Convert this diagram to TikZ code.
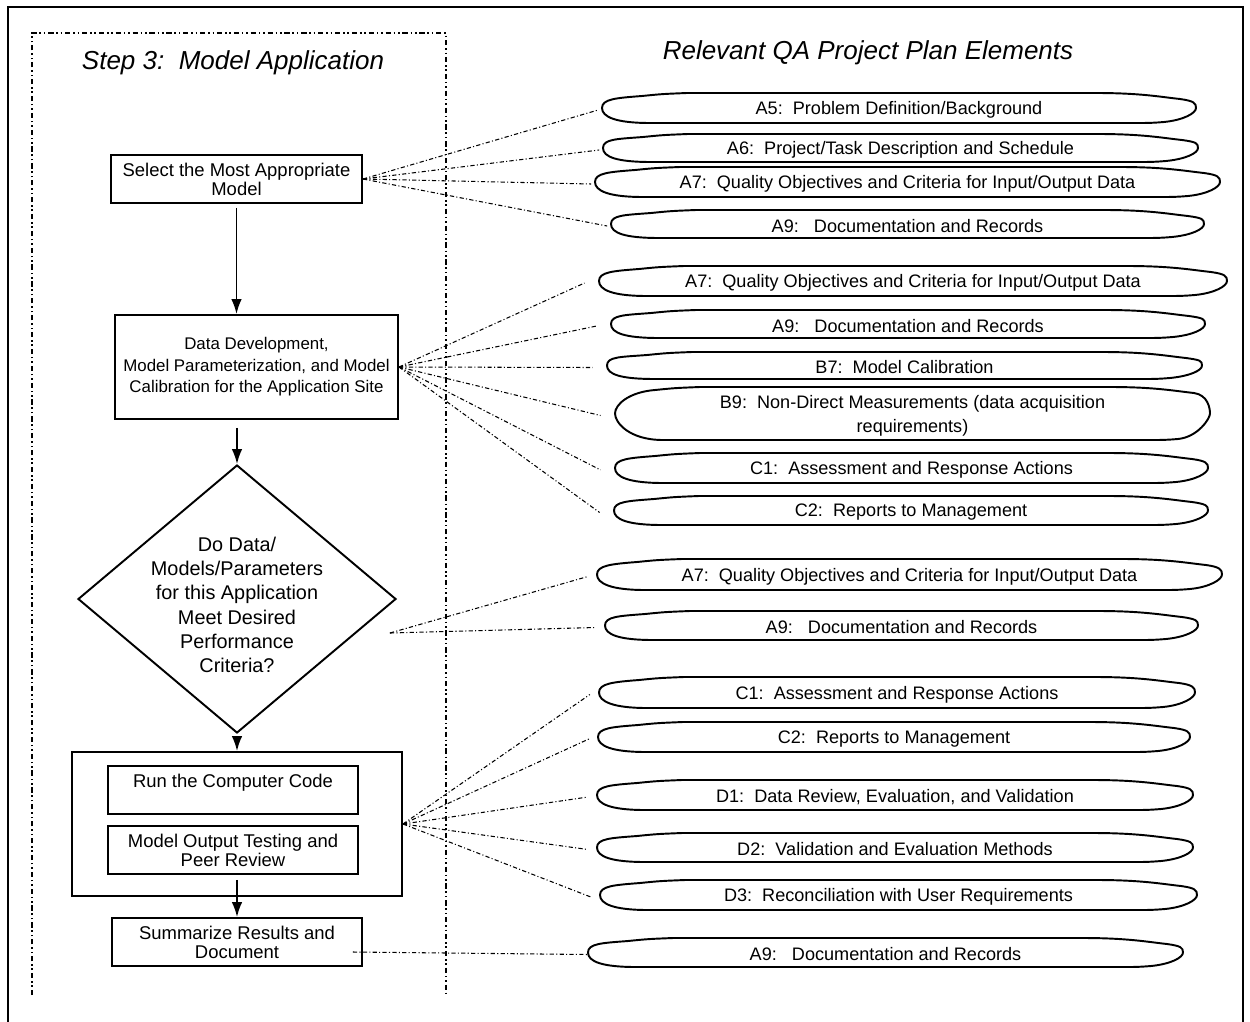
\documentclass[tikz,border=0pt]{standalone}
\usepackage{fontspec}
\setmainfont{Liberation Sans}
\usetikzlibrary{arrows.meta}
\usetikzlibrary{shapes.geometric}

\tikzset{
  stepbox/.style={draw, line width=1.1pt, align=center, inner sep=0pt,
    font=\fontsize{10.5}{10.8}\selectfont},
  decision/.style={draw, diamond, line width=1.1pt, inner sep=0pt},
  pill/.style={inner sep=0pt, align=center, font=\fontsize{10.3}{13.6}\selectfont},
  scroll/.style={line width=1.1pt, line join=round},
  heading/.style={font=\fontsize{14.8}{17}\selectfont\itshape},
  flow/.style={-{Latex[length=8.5pt,width=6pt]}, line width=1pt},
  link/.style={line width=0.6pt, dash pattern=on 2.4pt off 1.3pt on 0.6pt off 1.3pt},
  stepframe/.style={line width=0.9pt, dash pattern=on 3pt off 1.6pt on 0.9pt off 1.6pt on 0.9pt off 1.6pt}
}

\begin{document}
\begin{tikzpicture}[x=0.02cm, y=-0.02cm]
\useasboundingbox (0,0) rectangle (1250,1021);

% frames
\draw[line width=0.8pt] (8,1030) -- (8,7) -- (1243,7) -- (1243,1030);
\draw[stepframe] (32,995) -- (32,33) -- (446,33) -- (446,995);

\node[heading] (steptitle) at (233,63) {Step 3:\ \ Model Application};
\node[heading] (qatitle) at (868,53) {Relevant QA Project Plan Elements};

% model application steps
\node[stepbox, minimum width=251*0.02cm, minimum height=48*0.02cm] (sel) at (236.5,179)
  {Select the Most Appropriate\\Model};
\node[stepbox, minimum width=283*0.02cm, minimum height=104*0.02cm,
  font=\fontsize{9.6}{12.2}\selectfont] (datdev) at (256.5,367)
  {Data Development,\\Model Parameterization, and Model\\Calibration for the Application Site};
\node[decision, minimum width=318*0.02cm, minimum height=268*0.02cm] (perf) at (237,599) {};
\node[align=center, font=\fontsize{11.3}{13.8}\selectfont] (perftext) at (237,605)
  {Do Data/\\Models/Parameters\\for this Application\\Meet Desired\\Performance\\Criteria?};
\node[stepbox, minimum width=330*0.02cm, minimum height=144*0.02cm] (group) at (237,824) {};
\node[stepbox, minimum width=250*0.02cm, minimum height=48*0.02cm] (run) at (233,790)
  {Run the Computer Code\\ ~};
\node[stepbox, minimum width=250*0.02cm, minimum height=48*0.02cm] (test) at (233,850)
  {Model Output Testing and\\Peer Review};
\node[stepbox, minimum width=250*0.02cm, minimum height=48*0.02cm] (summ) at (237,942)
  {Summarize Results and\\Document};

\draw[flow, shorten <=4*0.02cm] (sel.south) -- (sel.south |- datdev.north);
\draw[flow, shorten <=8*0.02cm] (perf.north |- datdev.south) -- (perf.north);
\draw[flow, shorten <=4*0.02cm] (perf.south) -- (perf.south |- group.north);
\draw[flow, shorten <=5*0.02cm] (test.south -| summ.north) -- (summ.north);

% QA project plan elements
\foreach \nm/\xl/\xr/\yt/\yb/\txt in {
  a5/602/1196/93/123/{A5:\ \ Problem Definition/Background},
  a6/603/1198/134/162/{A6:\ \ Project/Task Description and Schedule},
  a7/595/1220/167/197/{A7:\ \ Quality Objectives and Criteria for Input/Output Data},
  a9/611/1204/210/238/{A9:\ \ \ Documentation and Records},
  a7b/599/1227/266/296/{A7:\ \ Quality Objectives and Criteria for Input/Output Data},
  a9b/611/1205/310/338/{A9:\ \ \ Documentation and Records},
  b7/607/1202/352/379/{B7:\ \ Model Calibration},
  b9/615/1210/387/440/{B9:\ \ Non-Direct Measurements (data acquisition\\requirements)},
  c1/615/1208/453/483/{C1:\ \ Assessment and Response Actions},
  c2/614/1208/496/525/{C2:\ \ Reports to Management},
  a7c/597/1222/559/590/{A7:\ \ Quality Objectives and Criteria for Input/Output Data},
  a9c/605/1198/611/640/{A9:\ \ \ Documentation and Records},
  c1b/599/1195/677/708/{C1:\ \ Assessment and Response Actions},
  c2b/598/1190/722/752/{C2:\ \ Reports to Management},
  d1/597/1193/780/810/{D1:\ \ Data Review, Evaluation, and Validation},
  d2/597/1193/833/862/{D2:\ \ Validation and Evaluation Methods},
  d3/600/1197/880/910/{D3:\ \ Reconciliation with User Requirements},
  a9d/588/1183/938/967/{A9:\ \ \ Documentation and Records}}{
  \pgfmathsetmacro\ym{(\yt+\yb)/2}
  \node[pill, minimum width={(\xr-\xl)*0.02cm}, minimum height={(\yb-\yt)*0.02cm}]
    (\nm) at ({(\xl+\xr)/2},\ym+2) {\txt};
  \draw[scroll] (\xl+85,\yt) -- (\xr-100,\yt)
    .. controls (\xr-55,\yt) and (\xr-35,\yt+4) .. (\xr-16,\yt+6)
    .. controls (\xr-2,\yt+8) and (\xr,\ym-5) .. (\xr,\ym)
    .. controls (\xr,\ym+5) and (\xr-12,\yb-3) .. (\xr-32,\yb-1)
    .. controls (\xr-45,\yb) .. (\xr-65,\yb)
    -- (\xl+48,\yb)
    .. controls (\xl+14,\yb) and (\xl,\ym+9) .. (\xl,\ym)
    .. controls (\xl,\ym-9) and (\xl+14,\yt+5) .. (\xl+40,\yt+3)
    .. controls (\xl+60,\yt+1) .. (\xl+85,\yt) -- cycle;
}

% connectors
\foreach \p in {a5,a6,a7,a9}
  \draw[link] (sel.east) -- ([xshift=-2pt]\p.west);
\foreach \p in {a7b,a9b,b7,b9,c1,c2}
  \draw[link] (datdev.east) -- ([xshift=-8pt]\p.west);
\foreach \p in {a7c,a9c}
  \draw[link] ([shift={(-7,34)}]perf.east) -- ([xshift=-5pt]\p.west);
\foreach \p in {c1b,c2b,d1,d2,d3}
  \draw[link] (group.east) -- ([xshift=-5pt]\p.west);
\draw[link] ([shift={(-10,10)}]summ.east) -- (a9d.west);

\end{tikzpicture}
\end{document}
